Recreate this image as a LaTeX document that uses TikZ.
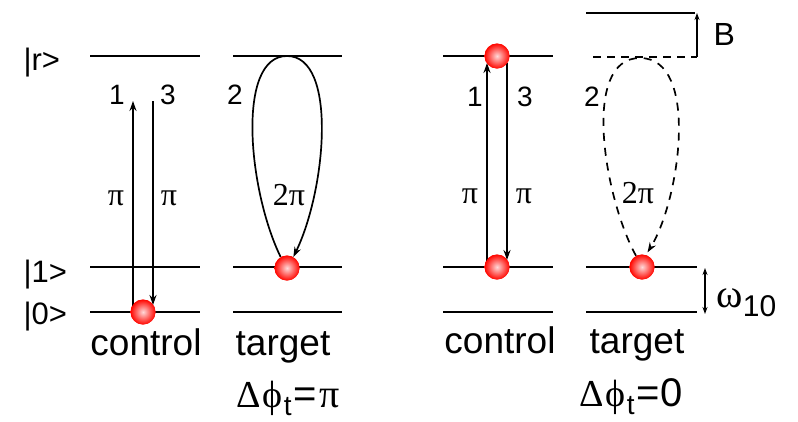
\documentclass[tikz,border=0pt]{standalone}
\usepackage{fontspec}
\setmainfont{Liberation Sans}
\newfontfamily\grk{Liberation Serif}
\usetikzlibrary{arrows.meta}
\newcommand{\sz}[1]{\fontsize{#1}{#1}\selectfont}

\begin{document}
\begin{tikzpicture}[x=1pt,y=-1pt,
  level/.style={line width=1.8pt},
  dlevel/.style={line width=1.8pt,dash pattern=on 8pt off 6pt},
  trans/.style={line width=1.7pt,-{Stealth[length=10pt,width=7pt]}},
  atom/.style={circle,inner sep=0pt,minimum size=25pt,inner color=red!15!white,outer color=red!95!orange},
  num/.style={anchor=base,font=\sz{28}},
  ket/.style={anchor=base west,font=\sz{31}},
  qubit/.style={anchor=base,font=\sz{37}},
  angle/.style={anchor=base,font=\sz{32}\grk}]
  \useasboundingbox (0,0) rectangle (798,421);

  % energy levels
  \foreach \x in {90,443} {
    \draw[level] (\x,56) -- (\x+110,56);
    \draw[level] (\x,267) -- (\x+110,267);
    \draw[level] (\x,312) -- (\x+110,312);
  }
  \draw[level] (233,56) -- (342,56);
  \draw[level] (233,267) -- (342,267);
  \draw[level] (233,312) -- (342,312);
  \draw[dlevel] (593,57) -- (697,57);
  \draw[level] (586,13) -- (695,13);
  \draw[level] (586,267) -- (697,267);
  \draw[level] (586,312) -- (697,312);

  \node[ket] (kr) at (20,70) {|r>};
  \node[ket] (k1) at (20,282) {|1>};
  \node[ket] (k0) at (20,324) {|0>};

  % atoms
  \coordinate (ltop) at (287,56);
  \coordinate (rtop) at (640,58);
  \node[atom] (lcb) at (143,312) {};
  \node[atom] (ltb) at (287,268) {};
  \node[atom] (rcb) at (497,267) {};
  \node[atom] (rcr) at (497,56) {};
  \node[atom] (rtb) at (642,267) {};

  % pulses, left
  \coordinate (lup) at (133,101);
  \coordinate (ldn) at (153,101);
  \draw[trans] (lup |- lcb) -- (lup);
  \draw[trans,shorten >=7pt] (ldn) -- (ldn |- lcb);
  \draw[trans] (ltb.120) .. controls (248,190) and (236,56) .. (ltop)
    .. controls (338,56) and (326,190) .. (ltb.60);

  % pulses, right
  \coordinate (rup) at (487,0);
  \coordinate (rdn) at (507,0);
  \draw[trans,shorten >=7pt] (rup |- rcb) -- (rup |- rcr);
  \draw[trans,shorten <=7pt,shorten >=7pt] (rdn |- rcr) -- (rdn |- rcb);
  \draw[trans,dash pattern=on 8pt off 7pt,shorten >=3pt] (rtb.118)
    .. controls (605,200) and (580,58) .. (rtop)
    .. controls (700,58) and (680,200) .. (rtb.72);
  \foreach \a in {lcb,ltb,rcb,rcr,rtb} \node[atom] at (\a) {};

  % B shift and splitting
  \coordinate (bb) at (697,57);
  \coordinate (bt) at (697,13);
  \draw[line width=1.3pt,-{Stealth[length=7pt,width=5pt]}] (bb) -- (bt);
  \node[anchor=west,font=\sz{32}] (bl) at (710,34) {B};
  \coordinate (wt) at (705,268);
  \coordinate (wb) at (705,314);
  \draw[line width=1.3pt,{Stealth[length=7pt,width=5pt]}-{Stealth[length=7pt,width=5pt]}] (wt) -- (wb);
  \node[anchor=base west,font=\sz{40}] (wl) at (713,307) {{\grk ω}\raisebox{-9pt}{\sz{30}10}};

  % labels
  \node[num] (n1) at (117,104) {1};
  \node[num] (n3) at (168,104) {3};
  \node[num] (n2) at (235,104) {2};
  \node[num] (m1) at (475,106) {1};
  \node[num] (m3) at (525,106) {3};
  \node[num] (m2) at (592,106) {2};
  \node[angle] (p1) at (116,205) {π};
  \node[angle] (p3) at (169,205) {π};
  \node[angle] (p2) at (289,205) {2π};
  \node[angle] (q1) at (470,203) {π};
  \node[angle] (q3) at (524,203) {π};
  \node[angle] (q2) at (638,203) {2π};

  \node[qubit] (lc) at (146,355) {control};
  \node[qubit] (lt) at (283,355) {target};
  \node[qubit] (rc) at (500,353) {control};
  \node[qubit] (rt) at (637,353) {target};
  \node[anchor=base west,font=\sz{40}] (dl) at (233,407) {{\sz{38}\grk Δ\kern2pt ϕ}\kern1pt\raisebox{-8pt}{\sz{28}t}\kern2pt=\kern2pt{\sz{40}\grk π}};
  \node[anchor=base west,font=\sz{40}] (dr) at (576,406) {{\sz{38}\grk Δ\kern2pt ϕ}\kern1pt\raisebox{-8pt}{\sz{28}t}\kern2pt=0};
\end{tikzpicture}
\end{document}
